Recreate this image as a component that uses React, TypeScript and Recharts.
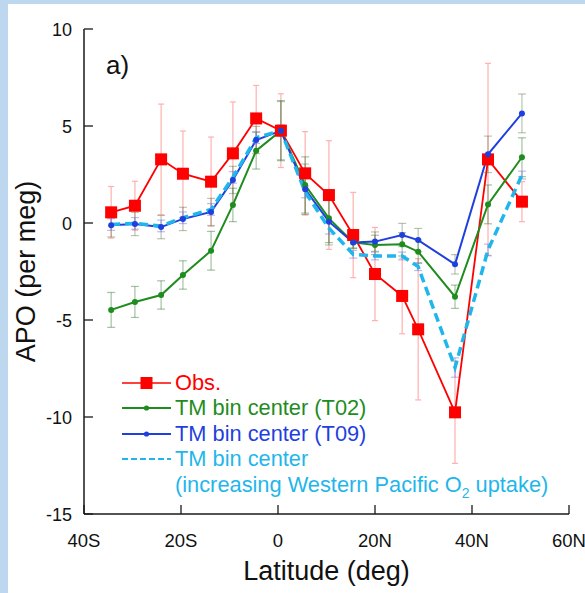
import React from 'react';
import { LineChart, Line, XAxis, YAxis, ErrorBar, Label } from 'recharts';

// latitude of each bin centre (deg, negative = south)
const LAT = [-34.4, -29.5, -24.1, -19.6, -13.8, -9.3, -4.5, 0.6, 5.6, 10.5, 15.5, 20.0, 25.6, 28.9, 36.5, 43.3, 50.3];

const OBS = [0.55, 0.89, 3.28, 2.54, 2.13, 3.59, 5.39, 4.76, 2.56, 1.44, -0.62, -2.63, -3.76, -5.48, -9.76, 3.28, 1.1];
const OBS_ERR = [1.33, 1.26, 2.85, 2.2, 2.3, 2.65, 1.7, 1.9, 2.15, 2.8, 2.2, 2.4, 1.95, 3.64, 2.63, 4.95, 1.03];

const T02 = [-4.48, -4.07, -3.71, -2.68, -1.43, 0.93, 3.73, 4.76, 1.96, 0.24, -1.0, -1.13, -1.1, -1.48, -3.8, 0.96, 3.39];
const T02_ERR = [0.9, 0.8, 0.73, 0.73, 1.0, 0.86, 0.95, 1.55, 1.45, 1.25, 0.3, 0.5, 0.6, 0.6, 0.6, 1.0, 1.0];

const T09 = [-0.12, -0.05, -0.21, 0.21, 0.57, 2.22, 4.28, 4.76, 1.74, 0.07, -1.0, -0.96, -0.62, -0.88, -2.13, 3.54, 5.65];
const T09_ERR = [0.6, 0.6, 0.6, 0.6, 0.7, 0.7, 0.7, 1.5, 1.3, 1.2, 0.3, 0.5, 0.6, 0.6, 0.5, 0.94, 1.0];

const WPAC = [-0.08, -0.02, -0.15, 0.27, 0.7, 2.35, 4.4, 4.76, 1.6, -0.27, -1.61, -1.7, -1.7, -2.25, -7.45, -1.39, 2.47];
const WPAC_ERR = [0.3, 0.3, 0.3, 0.3, 0.3, 0.3, 0.3, 0.3, 0.3, 0.3, 0.2, 0.2, 0.2, 0.2, 0.5, 0.3, 0.2];

const X_TICKS = [-40, -20, 0, 20, 40, 60];
const Y_TICKS = [-15, -10, -5, 0, 5, 10];

const RED = '#ff0000';
const GREEN = '#1e8c1e';
const BLUE = '#1f3fdf';
const CYAN = '#1fb6ec';
const AXIS = '#1a1a1a';
const FONT = '"Liberation Sans", Arial, Helvetica, sans-serif';
const TICK = 9;

const rows = LAT.map((lat, i) => ({
  lat,
  obs: OBS[i], obsErr: OBS_ERR[i],
  t02: T02[i], t02Err: T02_ERR[i],
  t09: T09[i], t09Err: T09_ERR[i],
  wpac: WPAC[i], wpacErr: WPAC_ERR[i],
}));

const latLabel = (v: number) => (v < 0 ? `${-v}S` : v > 0 ? `${v}N` : '0');

const BottomTick = (p: any) => (
  <g>
    <line x1={p.x} x2={p.x} y1={p.y} y2={p.y - TICK} stroke={AXIS} strokeWidth={1.3} />
    <text x={p.x} y={p.y + 33} textAnchor="middle" fontSize={18.5} fontFamily={FONT} fill="#111">
      {latLabel(p.payload.value)}
    </text>
  </g>
);

const TopTick = (p: any) => (
  <line x1={p.x} x2={p.x} y1={p.y} y2={p.y + TICK} stroke={AXIS} strokeWidth={1.3} />
);

const LeftTick = (p: any) => (
  <g>
    <line x1={p.x} x2={p.x + TICK} y1={p.y} y2={p.y} stroke={AXIS} strokeWidth={1.3} />
    <text x={p.x - 12} y={p.y + 6.5} textAnchor="end" fontSize={18} fontFamily={FONT} fill="#111">
      {p.payload.value}
    </text>
  </g>
);

const RightTick = (p: any) => (
  <line x1={p.x} x2={p.x - TICK} y1={p.y} y2={p.y} stroke={AXIS} strokeWidth={1.3} />
);

const SquareDot = (p: any) => (
  <rect key={`sq-${p.index}`} x={p.cx - 6} y={p.cy - 6} width={12} height={12} fill={RED} />
);

const LEGEND = [
  { label: 'Obs.', color: RED, kind: 'square' },
  { label: 'TM bin center (T02)', color: GREEN, kind: 'dot' },
  { label: 'TM bin center (T09)', color: BLUE, kind: 'dot' },
  { label: 'TM bin center', color: CYAN, kind: 'dash' },
];

const LegendSample = ({ color, kind }: { color: string; kind: string }) => (
  <svg width={49} height={16} style={{ display: 'block' }}>
    {kind === 'dash' ? (
      <line x1={0} x2={49} y1={8} y2={8} stroke={color} strokeWidth={2.2} strokeDasharray="6 3" />
    ) : (
      <line x1={0} x2={49} y1={8} y2={8} stroke={color} strokeWidth={kind === 'square' ? 1.5 : 2.2} />
    )}
    {kind === 'square' && <rect x={18.5} y={2} width={12} height={12} fill={color} />}
    {kind === 'dot' && <circle cx={24.5} cy={8} r={2.6} fill={color} />}
  </svg>
);

export default function App() {
  return (
    <div style={{ position: 'absolute', left: 0, top: 0, width: 585, height: 593, background: '#bdd7ee', overflow: 'hidden' }}>
      <div style={{ position: 'absolute', left: 8, top: 4, right: 0, bottom: 0, background: '#fff' }} />
      <div style={{ position: 'absolute', left: 0, top: 0 }}>
        <LineChart width={585} height={593} data={rows} margin={{ top: 29, right: 16, left: 0, bottom: 0 }}>
          <XAxis
            dataKey="lat" type="number" domain={[-40, 60]} ticks={X_TICKS} interval={0}
            height={79} tickSize={0} tickMargin={0} tick={<BottomTick />}
            axisLine={{ stroke: AXIS, strokeWidth: 1.5 }} allowDataOverflow
          >
            <Label
              content={(p: any) => (
                <text x={p.viewBox.x + p.viewBox.width / 2} y={p.viewBox.y + 66} textAnchor="middle"
                  fontSize={27} fontFamily={FONT} fill="#111">
                  Latitude (deg)
                </text>
              )}
            />
          </XAxis>
          <XAxis
            xAxisId="top" orientation="top" type="number" domain={[-40, 60]} ticks={X_TICKS} interval={0}
            height={0} tickSize={0} tickMargin={0} tick={<TopTick />}
            axisLine={{ stroke: AXIS, strokeWidth: 1.5 }} allowDataOverflow
          />
          <YAxis
            type="number" domain={[-15, 10]} ticks={Y_TICKS} interval={0}
            width={84} tickSize={0} tickMargin={0} tick={<LeftTick />}
            axisLine={{ stroke: AXIS, strokeWidth: 1.5 }} allowDataOverflow
          >
            <Label
              content={(p: any) => {
                const x = p.viewBox.x + 35;
                const y = p.viewBox.y + p.viewBox.height / 2;
                return (
                  <text x={x} y={y} transform={`rotate(-90, ${x}, ${y})`} textAnchor="middle"
                    fontSize={27} fontFamily={FONT} fill="#111">
                    APO (per meg)
                  </text>
                );
              }}
            />
          </YAxis>
          <YAxis
            yAxisId="right" orientation="right" type="number" domain={[-15, 10]} ticks={Y_TICKS} interval={0}
            width={0} tickSize={0} tickMargin={0} tick={<RightTick />}
            axisLine={{ stroke: AXIS, strokeWidth: 1.5 }} allowDataOverflow
          />

          <Line dataKey="obs" stroke={RED} strokeWidth={1.8} dot={SquareDot} activeDot={false} isAnimationActive={false}>
            <ErrorBar dataKey="obsErr" direction="y" width={3} stroke="#ffb0b0" strokeWidth={1.2} isAnimationActive={false} />
          </Line>
          <Line dataKey="t02" stroke={GREEN} strokeWidth={2} dot={{ r: 3, fill: GREEN, stroke: GREEN, strokeWidth: 0 }} activeDot={false} isAnimationActive={false}>
            <ErrorBar dataKey="t02Err" direction="y" width={4} stroke="rgba(50,120,50,0.45)" strokeWidth={1.2} isAnimationActive={false} />
          </Line>
          <Line dataKey="t09" stroke={BLUE} strokeWidth={2} dot={{ r: 3, fill: BLUE, stroke: BLUE, strokeWidth: 0 }} activeDot={false} isAnimationActive={false}>
            <ErrorBar dataKey="t09Err" direction="y" width={4} stroke="rgba(80,110,60,0.4)" strokeWidth={1.2} isAnimationActive={false} />
          </Line>
          <Line dataKey="wpac" stroke={CYAN} strokeWidth={3.5} strokeDasharray="9 5" dot={false} activeDot={false} isAnimationActive={false}>
            <ErrorBar dataKey="wpacErr" direction="y" width={4} stroke="rgba(120,120,220,0.5)" strokeWidth={1.2} isAnimationActive={false} />
          </Line>
        </LineChart>
      </div>

      <div style={{ position: 'absolute', left: 106, top: 50, fontFamily: FONT, fontSize: 26, color: '#111', lineHeight: '30px' }}>
        a)
      </div>

      <div style={{ position: 'absolute', left: 122, top: 370, fontFamily: FONT, fontSize: 21.8, whiteSpace: 'nowrap' }}>
        {LEGEND.map((item) => (
          <div key={item.label} style={{ display: 'flex', alignItems: 'center', height: 25.5, color: item.color }}>
            <LegendSample color={item.color} kind={item.kind} />
            <span style={{ marginLeft: 4 }}>{item.label}</span>
          </div>
        ))}
        <div style={{ height: 25.5, lineHeight: '25.5px', paddingLeft: 53, color: CYAN }}>
          (increasing Western Pacific O<span style={{ fontSize: 14, position: 'relative', top: 6 }}>2</span> uptake)
        </div>
      </div>
    </div>
  );
}
